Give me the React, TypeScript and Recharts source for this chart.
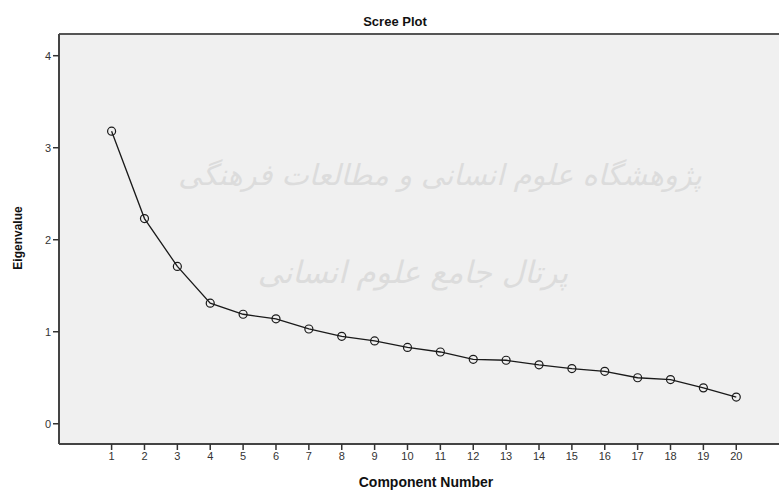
import React from 'react';
import { LineChart, Line, XAxis, YAxis, CartesianGrid, ReferenceLine, Customized } from 'recharts';

const components = [1, 2, 3, 4, 5, 6, 7, 8, 9, 10, 11, 12, 13, 14, 15, 16, 17, 18, 19, 20];
const eigenvalues = [3.18, 2.23, 1.71, 1.31, 1.19, 1.14, 1.03, 0.95, 0.9, 0.83, 0.78, 0.7, 0.69, 0.64, 0.6, 0.57, 0.5, 0.48, 0.39, 0.29];
const xTicks = components;
const yTicks = [0, 1, 2, 3, 4];
const watermarkLines = ['پژوهشگاه علوم انسانی و مطالعات فرهنگی', 'پرتال جامع علوم انسانی'];

const data = components.map((c, i) => ({ component: c, eigenvalue: eigenvalues[i] }));

const FONT = '"Liberation Sans", Arial, sans-serif';
const Y_TOP = 4.236;

const Overlay = () => (
  <g>
    <text x={395} y={26} textAnchor="middle" fontFamily={FONT} fontWeight="bold" fontSize={13} fill="#111">Scree Plot</text>
    <text x={426} y={487} textAnchor="middle" fontFamily={FONT} fontWeight="bold" fontSize={14} fill="#111">Component Number</text>
    <text x={22} y={238} textAnchor="middle" fontFamily={FONT} fontWeight="bold" fontSize={12} fill="#111" transform="rotate(-90 22 238)">Eigenvalue</text>
  </g>
);

const Watermark = () => (
  <g fill="#dcdcdc" fontFamily='"DejaVu Sans", "Noto Sans", sans-serif' fontStyle="italic">
    <text x={440} y={185} textAnchor="middle" fontSize={29}>{watermarkLines[0]}</text>
    <text x={413} y={283} textAnchor="middle" fontSize={31}>{watermarkLines[1]}</text>
  </g>
);

export default function App() {
  return (
    <div style={{ position: 'absolute', left: 0, top: 0, width: 779, height: 491, background: '#fff' }}>
      <LineChart width={779} height={491} data={data} margin={{ top: 34, right: 0, bottom: 0, left: 0 }}>
        <CartesianGrid fill="#f0f0f0" stroke="none" horizontal={false} vertical={false} />
        <Customized component={Watermark} />
        <XAxis
          dataKey="component"
          type="number"
          domain={[-0.6, 21.3]}
          ticks={xTicks}
          allowDataOverflow
          height={47}
          axisLine={{ stroke: '#444', strokeWidth: 2 }}
          tickLine={{ stroke: '#333', strokeWidth: 1.5 }}
          tickSize={6}
          tick={{ fill: '#333', fontSize: 11, fontFamily: FONT }}
          interval={0}
        />
        <YAxis
          type="number"
          domain={[-0.22, Y_TOP]}
          ticks={yTicks}
          allowDataOverflow
          width={59}
          axisLine={{ stroke: '#444', strokeWidth: 2 }}
          tickLine={{ stroke: '#333', strokeWidth: 1.5 }}
          tickSize={6}
          tick={{ fill: '#333', fontSize: 11, fontFamily: FONT }}
        />
        <ReferenceLine y={Y_TOP} stroke="#555" strokeWidth={2} ifOverflow="visible" />
        <Line
          dataKey="eigenvalue"
          type="linear"
          stroke="#1a1a1a"
          strokeWidth={1.3}
          dot={{ r: 4, fill: 'none', stroke: '#1a1a1a', strokeWidth: 1.2 }}
          isAnimationActive={false}
        />
        <Customized component={Overlay} />
      </LineChart>
    </div>
  );
}
